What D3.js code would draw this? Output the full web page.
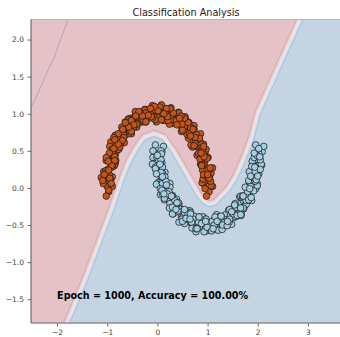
<!DOCTYPE html>
<html><head><meta charset="utf-8">
<script src="https://cdn.jsdelivr.net/npm/d3@7"></script>
<style>
html,body{margin:0;padding:0;background:#fff;overflow:hidden}
svg{display:block}
text{font-family:"DejaVu Sans",sans-serif}
</style></head><body>
<svg id="chart" width="340" height="337"></svg>
<script>
// ---- data ----
const xTicks = [-2, -1, 0, 1, 2, 3];
const yTicks = [-1.5, -1.0, -0.5, 0.0, 0.5, 1.0, 1.5, 2.0];
const xDomain = [-2.52, 3.66];
const yDomain = [-1.82, 2.27];
const titleText = "Classification Analysis";
const epoch = 1000;
const accuracy = 100.0;

// class 1 (upper moon)
const redMoon = [
[1.03,-0.05],[0.92,0.06],[1.10,0.02],[0.98,-0.11],[1.05,0.09],
[0.94,0.09],[1.07,0.03],[1.01,0.22],[0.89,0.07],[1.04,0.14],
[1.07,0.20],[0.94,0.29],[0.91,0.12],[1.00,0.18],[1.10,0.27],
[0.94,0.35],[1.01,0.41],[0.86,0.32],[1.03,0.25],[0.90,0.24],
[0.91,0.32],[0.79,0.44],[0.95,0.48],[0.98,0.41],[0.88,0.53],
[0.90,0.45],[0.79,0.56],[0.97,0.52],[0.85,0.39],[0.92,0.59],
[0.75,0.57],[0.88,0.51],[0.82,0.70],[0.70,0.55],[0.85,0.62],
[0.83,0.66],[0.70,0.75],[0.67,0.58],[0.76,0.64],[0.86,0.73],
[0.66,0.78],[0.73,0.84],[0.58,0.75],[0.75,0.68],[0.62,0.67],
[0.59,0.72],[0.47,0.84],[0.63,0.88],[0.66,0.81],[0.56,0.93],
[0.53,0.82],[0.42,0.93],[0.60,0.89],[0.48,0.76],[0.55,0.96],
[0.35,0.89],[0.48,0.83],[0.42,1.02],[0.30,0.87],[0.45,0.94],
[0.40,0.94],[0.27,1.03],[0.24,0.86],[0.33,0.92],[0.43,1.01],
[0.20,1.02],[0.27,1.08],[0.12,0.99],[0.29,0.92],[0.16,0.91],
[0.11,0.91],[-0.02,1.03],[0.15,1.07],[0.18,1.00],[0.08,1.12],
[0.03,0.95],[-0.08,1.06],[0.10,1.02],[-0.02,0.89],[0.05,1.09],
[-0.17,0.98],[-0.04,0.92],[-0.10,1.11],[-0.22,0.96],[-0.07,1.03],
[-0.12,0.97],[-0.25,1.06],[-0.28,0.89],[-0.19,0.95],[-0.09,1.04],
[-0.32,0.99],[-0.25,1.05],[-0.40,0.96],[-0.23,0.89],[-0.36,0.88],
[-0.41,0.82],[-0.53,0.94],[-0.37,0.98],[-0.34,0.91],[-0.44,1.03],
[-0.47,0.82],[-0.58,0.93],[-0.40,0.89],[-0.52,0.76],[-0.45,0.96],
[-0.65,0.79],[-0.52,0.73],[-0.58,0.92],[-0.70,0.77],[-0.55,0.84],
[-0.58,0.73],[-0.71,0.82],[-0.74,0.65],[-0.65,0.71],[-0.55,0.80],
[-0.75,0.71],[-0.68,0.77],[-0.83,0.68],[-0.66,0.61],[-0.79,0.60],
[-0.81,0.50],[-0.93,0.62],[-0.77,0.66],[-0.74,0.59],[-0.84,0.71],
[-0.84,0.45],[-0.95,0.56],[-0.77,0.52],[-0.89,0.39],[-0.82,0.59],
[-0.97,0.39],[-0.84,0.33],[-0.90,0.52],[-1.02,0.37],[-0.87,0.44],
[-0.86,0.30],[-0.99,0.39],[-1.02,0.22],[-0.93,0.28],[-0.83,0.37],
[-0.99,0.25],[-0.92,0.31],[-1.07,0.22],[-0.90,0.15],[-1.03,0.14],
[-1.00,0.02],[-1.12,0.14],[-0.96,0.18],[-0.93,0.11],[-1.03,0.23],
[-0.97,-0.05],[-1.08,0.06],[-0.90,0.02],[-1.02,-0.11],[-0.95,0.09],
[1.06,0.09],[0.95,-0.01],[0.99,0.15],[0.92,0.18],[1.03,0.13],[1.01,0.24],
[1.00,0.18],[0.88,0.31],[1.05,0.27],[0.99,0.40],[0.88,0.30],[0.92,0.46],
[0.82,0.47],[0.93,0.42],[0.91,0.53],[0.87,0.47],[0.75,0.60],[0.92,0.56],
[0.84,0.67],[0.73,0.57],[0.77,0.73],[0.64,0.73],[0.75,0.68],[0.73,0.79],
[0.66,0.70],[0.54,0.83],[0.71,0.79],[0.61,0.88],[0.50,0.78],[0.54,0.94],
[0.38,0.91],[0.49,0.86],[0.47,0.97],[0.39,0.85],[0.27,0.98],[0.44,0.94],
[0.32,1.01],[0.21,0.91],[0.25,1.07],[0.09,1.01],[0.20,0.96],[0.18,1.07],
[0.08,0.92],[-0.04,1.05],[0.13,1.00],[0.01,1.04],[-0.10,0.94],[-0.06,1.10],
[-0.23,1.01],[-0.12,0.96],[-0.14,1.07],[-0.23,0.89],[-0.35,1.02],[-0.18,0.98],
[-0.30,0.97],[-0.41,0.87],[-0.37,1.03],[-0.52,0.91],[-0.41,0.86],[-0.43,0.97],
[-0.52,0.76],[-0.64,0.89],[-0.47,0.85],[-0.57,0.82],[-0.68,0.72],[-0.64,0.88],
[-0.78,0.73],[-0.67,0.68],[-0.69,0.79],[-0.75,0.55],[-0.87,0.68],[-0.70,0.64],
[-0.78,0.59],[-0.89,0.49],[-0.85,0.65],[-0.96,0.47],[-0.85,0.42],[-0.87,0.53],
[-0.90,0.28],[-1.02,0.41],[-0.85,0.37],[-0.91,0.30],[-1.02,0.20],[-0.98,0.36],
[-1.06,0.18],[-0.95,0.13],[-0.97,0.24],[-0.97,-0.03],[-1.09,0.10],[-0.92,0.06]
];

// class 0 (lower moon)
const blueMoon = [
[0.09,0.49],[-0.04,0.58],[-0.07,0.41],[0.02,0.47],[0.12,0.56],
[0.00,0.44],[0.07,0.50],[-0.09,0.41],[0.09,0.34],[-0.05,0.33],
[0.02,0.20],[-0.10,0.32],[0.06,0.36],[0.09,0.29],[-0.01,0.41],
[0.08,0.14],[-0.03,0.25],[0.15,0.21],[0.03,0.08],[0.10,0.28],
[0.03,0.07],[0.16,0.01],[0.10,0.20],[-0.02,0.05],[0.13,0.12],
[0.22,-0.01],[0.09,0.08],[0.06,-0.09],[0.15,-0.03],[0.25,0.06],
[0.18,-0.05],[0.25,0.01],[0.10,-0.08],[0.27,-0.15],[0.14,-0.16],
[0.26,-0.26],[0.14,-0.14],[0.30,-0.10],[0.33,-0.17],[0.23,-0.05],
[0.36,-0.29],[0.25,-0.18],[0.43,-0.22],[0.31,-0.35],[0.38,-0.15],
[0.35,-0.33],[0.48,-0.39],[0.42,-0.20],[0.30,-0.35],[0.45,-0.28],
[0.59,-0.38],[0.46,-0.29],[0.43,-0.46],[0.52,-0.40],[0.62,-0.31],
[0.58,-0.37],[0.65,-0.31],[0.50,-0.40],[0.67,-0.47],[0.54,-0.48],
[0.69,-0.54],[0.57,-0.42],[0.73,-0.38],[0.76,-0.45],[0.66,-0.33],
[0.82,-0.53],[0.71,-0.42],[0.89,-0.46],[0.77,-0.59],[0.84,-0.39],
[0.84,-0.52],[0.97,-0.58],[0.91,-0.39],[0.79,-0.54],[0.94,-0.47],
[1.09,-0.51],[0.96,-0.42],[0.93,-0.59],[1.02,-0.53],[1.12,-0.44],
[1.10,-0.46],[1.17,-0.40],[1.02,-0.49],[1.19,-0.56],[1.06,-0.57],
[1.21,-0.57],[1.09,-0.45],[1.25,-0.41],[1.28,-0.48],[1.18,-0.36],
[1.34,-0.50],[1.23,-0.39],[1.41,-0.43],[1.29,-0.56],[1.36,-0.36],
[1.35,-0.43],[1.48,-0.49],[1.42,-0.30],[1.30,-0.45],[1.45,-0.38],
[1.59,-0.38],[1.46,-0.29],[1.43,-0.46],[1.52,-0.40],[1.62,-0.31],
[1.58,-0.27],[1.65,-0.21],[1.50,-0.30],[1.67,-0.37],[1.54,-0.38],
[1.67,-0.33],[1.55,-0.21],[1.71,-0.17],[1.74,-0.24],[1.64,-0.12],
[1.77,-0.22],[1.66,-0.11],[1.84,-0.15],[1.72,-0.28],[1.79,-0.08],
[1.75,-0.11],[1.88,-0.17],[1.82,0.02],[1.70,-0.13],[1.85,-0.06],
[1.96,-0.01],[1.83,0.08],[1.80,-0.09],[1.89,-0.03],[1.99,0.06],
[1.90,0.13],[1.97,0.19],[1.82,0.10],[1.99,0.03],[1.86,0.02],
[1.95,0.10],[1.83,0.22],[1.99,0.26],[2.02,0.19],[1.92,0.31],
[2.01,0.24],[1.90,0.35],[2.08,0.31],[1.96,0.18],[2.03,0.38],
[1.94,0.38],[2.07,0.32],[2.01,0.51],[1.89,0.36],[2.04,0.43],
[2.09,0.49],[1.96,0.58],[1.93,0.41],[2.02,0.47],[2.12,0.56],
[0.03,0.37],[-0.09,0.50],[0.08,0.46],[0.07,0.38],[-0.04,0.28],[0.00,0.44],
[-0.04,0.26],[0.07,0.21],[0.05,0.32],[0.10,0.06],[-0.02,0.19],[0.15,0.15],
[0.17,0.09],[0.06,-0.01],[0.10,0.15],[0.09,-0.03],[0.20,-0.08],[0.18,0.04],
[0.25,-0.21],[0.13,-0.08],[0.30,-0.12],[0.35,-0.17],[0.24,-0.27],[0.28,-0.11],
[0.30,-0.26],[0.41,-0.31],[0.39,-0.20],[0.49,-0.42],[0.37,-0.29],[0.54,-0.33],
[0.61,-0.35],[0.50,-0.45],[0.54,-0.29],[0.57,-0.41],[0.68,-0.46],[0.66,-0.35],
[0.77,-0.55],[0.65,-0.42],[0.82,-0.46],[0.90,-0.45],[0.79,-0.55],[0.83,-0.39],
[0.88,-0.48],[0.99,-0.53],[0.97,-0.42],[1.08,-0.58],[0.96,-0.45],[1.13,-0.50],
[1.22,-0.45],[1.11,-0.55],[1.15,-0.39],[1.19,-0.45],[1.30,-0.50],[1.28,-0.39],
[1.39,-0.51],[1.27,-0.38],[1.44,-0.42],[1.51,-0.35],[1.40,-0.45],[1.44,-0.29],
[1.48,-0.32],[1.59,-0.37],[1.57,-0.26],[1.66,-0.36],[1.54,-0.23],[1.71,-0.27],
[1.77,-0.17],[1.66,-0.27],[1.70,-0.11],[1.71,-0.11],[1.82,-0.16],[1.80,-0.05],
[1.87,-0.13],[1.75,0.01],[1.92,-0.04],[1.95,0.09],[1.84,-0.01],[1.88,0.15],
[1.86,0.16],[1.97,0.11],[1.95,0.22],[2.00,0.16],[1.88,0.29],[2.05,0.25],
[2.05,0.38],[1.94,0.28],[1.98,0.44],[1.93,0.47],[2.04,0.42],[2.02,0.53]
];

// decision boundary (p = 0.5), ordered from top-right to bottom-left
const boundary = [
[2.98,2.53],[2.80,2.26],[2.38,1.63],[1.97,1.01],[1.85,0.69],[1.75,0.51],
[1.65,0.34],[1.53,0.16],[1.39,0.01],[1.25,-0.09],[1.13,-0.18],[1.01,-0.20],
[0.91,-0.16],[0.81,-0.08],[0.65,0.11],[0.49,0.30],[0.31,0.51],[0.11,0.70],
[-0.09,0.75],[-0.29,0.70],[-0.45,0.55],[-0.61,0.35],[-0.77,0.07],[-0.94,-0.27],
[-1.14,-0.63],[-1.48,-1.24],[-1.84,-1.82],[-1.98,-2.05]
];

// faint low-probability contour in the class-1 region
const faintContour = [
[-1.78,2.27],[-1.88,2.09],[-1.98,1.91],[-2.06,1.75],[-2.18,1.59],
[-2.28,1.43],[-2.38,1.28],[-2.53,1.07]
];

// ---- layout ----
const m = {left: 31, top: 19.5, right: 341, bottom: 323};
const x = d3.scaleLinear().domain(xDomain).range([m.left, m.right]);
const y = d3.scaleLinear().domain(yDomain).range([m.bottom, m.top]);
const svg = d3.select("#chart");

svg.append("defs").append("clipPath").attr("id", "plotclip")
  .append("rect").attr("x", m.left).attr("y", m.top)
  .attr("width", m.right - m.left).attr("height", m.bottom - m.top);
const plot = svg.append("g").attr("clip-path", "url(#plotclip)");

// ---- signed distance (px) from the decision boundary on a pixel grid ----
const gw = Math.ceil(m.right - m.left) + 2;
const gh = Math.ceil(m.bottom - m.top) + 2;
const bpx = boundary.map(([a, b]) => [x(a), y(b)]);
const redPoly = bpx.concat([[-80, 460], [-80, -80], [bpx[0][0] + 60, -80]]);
function segDist(px, py, ax, ay, bx, by) {
  const dx = bx - ax, dy = by - ay;
  let t = ((px - ax) * dx + (py - ay) * dy) / (dx * dx + dy * dy);
  t = Math.max(0, Math.min(1, t));
  const ex = ax + t * dx - px, ey = ay + t * dy - py;
  return Math.sqrt(ex * ex + ey * ey);
}
const field = new Float64Array(gw * gh);
for (let j = 0; j < gh; j++) {
  for (let i = 0; i < gw; i++) {
    const px = m.left + i - 0.5, py = m.top + j - 0.5;
    let d = Infinity;
    for (let k = 0; k < bpx.length - 1; k++) {
      const s = segDist(px, py, bpx[k][0], bpx[k][1], bpx[k + 1][0], bpx[k + 1][1]);
      if (s < d) d = s;
    }
    field[j * gw + i] = d3.polygonContains(redPoly, [px, py]) ? -d : d;
  }
}

// filled bands: pink (class 1) -> blue (class 0)
const levels = [-3.5, -2.5, -1.5, -0.5, 0.5, 1.5, 2.5, 3.5];
const bandColors = ["#d8a9b0", "#e8cbcf", "#ecd9da", "#ece5e5",
                    "#dfe5ec", "#d2dde8", "#abc3d9", "#c4d4e3"];
plot.append("rect").attr("x", m.left).attr("y", m.top)
  .attr("width", m.right - m.left).attr("height", m.bottom - m.top)
  .attr("fill", "#e5c2c8");
const bands = d3.contours().size([gw, gh]).thresholds(levels)(field);
plot.append("g").attr("transform", `translate(${m.left},${m.top})`)
  .selectAll("path").data(bands).join("path")
  .attr("d", d3.geoPath())
  .attr("fill", (d, i) => bandColors[i]);

plot.append("path")
  .datum(faintContour)
  .attr("d", d3.line().x(d => x(d[0])).y(d => y(d[1])))
  .attr("fill", "none").attr("stroke", "#b39aa0").attr("stroke-width", 0.8);

// ---- scatter ----
const r = 3.3;
plot.append("g").selectAll("circle").data(redMoon).join("circle")
  .attr("cx", d => x(d[0])).attr("cy", d => y(d[1])).attr("r", r)
  .attr("fill", "#c4561b").attr("stroke", "#1a1a1a").attr("stroke-width", 0.75);
plot.append("g").selectAll("circle").data(blueMoon).join("circle")
  .attr("cx", d => x(d[0])).attr("cy", d => y(d[1])).attr("r", r)
  .attr("fill", "#a6cee3").attr("stroke", "#1a1a1a").attr("stroke-width", 0.75);

// ---- annotation ----
svg.append("text")
  .attr("x", x(-2)).attr("y", y(-1.5))
  .attr("font-size", 9.6).attr("font-weight", "bold").attr("fill", "#000")
  .text(`Epoch = ${epoch}, Accuracy = ${accuracy.toFixed(2)}%`);

// ---- axes ----
const xAxis = svg.append("g").attr("transform", `translate(0,${m.bottom})`)
  .call(d3.axisBottom(x).tickValues(xTicks).tickFormat(d3.format("d"))
    .tickSize(3.5).tickPadding(3.5));
const yAxis = svg.append("g").attr("transform", `translate(${m.left},0)`)
  .call(d3.axisLeft(y).tickValues(yTicks).tickFormat(d3.format(".1f"))
    .tickSize(3.5).tickPadding(3.5));
[xAxis, yAxis].forEach(g => {
  g.select(".domain").remove();
  g.selectAll(".tick line").attr("stroke", "#444").attr("stroke-width", 0.8);
  g.selectAll(".tick text").attr("fill", "#444").attr("font-size", 7.5)
    .attr("font-family", "DejaVu Sans, sans-serif");
});

// spines
svg.append("line").attr("x1", m.left).attr("x2", m.right).attr("y1", m.top).attr("y2", m.top)
  .attr("stroke", "#b5b5b5").attr("stroke-width", 1.2);
svg.append("line").attr("x1", m.left).attr("x2", m.right).attr("y1", m.bottom).attr("y2", m.bottom)
  .attr("stroke", "#8c8c8c").attr("stroke-width", 1.5);
svg.append("line").attr("x1", m.left).attr("x2", m.left).attr("y1", m.top).attr("y2", m.bottom)
  .attr("stroke", "#555").attr("stroke-width", 1);

// title
svg.append("text")
  .attr("x", (m.left + m.right) / 2).attr("y", 15.5)
  .attr("text-anchor", "middle").attr("font-size", 9.7).attr("fill", "#222")
  .text(titleText);
</script>
</body></html>
